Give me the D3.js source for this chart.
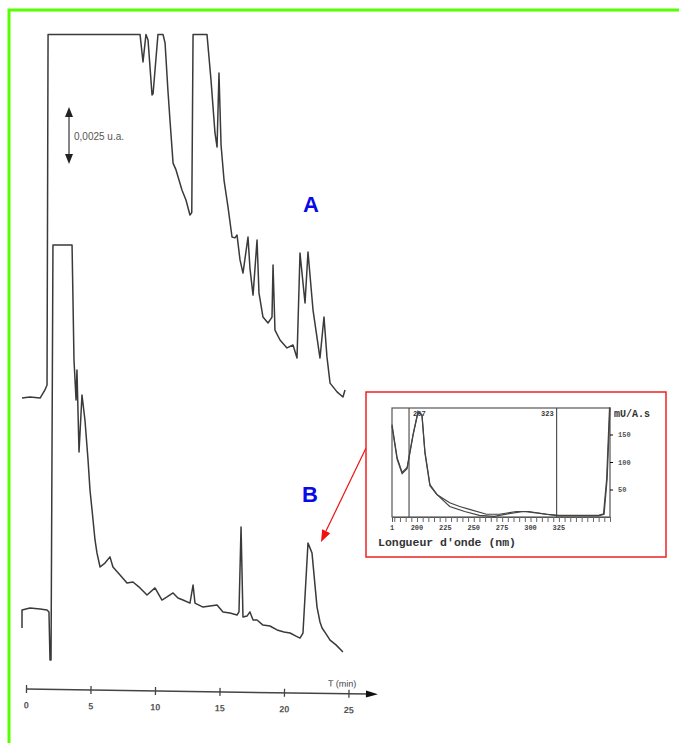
<!DOCTYPE html>
<style>
  body {
  margin: 0;
  background: #fff;
  font-family: 'Liberation Sans', sans-serif;
  }
</style>
<svg width="679" height="743"></svg>
<script src="https://d3js.org/d3.v7.min.js"></script>
<script>
  // chromatogram A : [time (min), signal (mAU, stacked position)]
  var traceA = [[-0.31,13.27],[0.31,13.32],[1.09,13.27],[1.47,13.64],[1.63,13.86],[1.71,29.8],
    [8.84,29.8],[9.07,28.55],[9.3,29.8],[9.46,29.55],[9.77,27.05],[9.85,27.1],[10.23,29.8],[10.62,29.8],
    [10.78,29.41],[11.0,27.27],[11.16,25.91],[11.4,23.95],[11.63,23.64],[11.86,23.18],[12.09,22.73],
    [12.4,22.27],[12.71,21.59],[12.85,21.7],[12.95,29.8],[14.03,29.8],[14.34,27.73],[14.65,25.32],
    [14.81,24.68],[14.96,28.05],[15.12,24.77],[15.35,23.18],[15.66,21.95],[15.97,20.59],[16.2,20.55],
    [16.36,20.68],[16.59,19.55],[16.82,18.95],[17.21,20.59],[17.36,19.18],[17.6,17.95],[17.91,20.45],
    [18.06,18.05],[18.37,16.95],[18.76,16.68],[19.07,16.95],[19.15,19.32],[19.3,16.36],[19.69,15.91],
    [20.23,15.55],[20.7,15.68],[21.01,15.09],[21.24,19.86],[21.63,17.59],[21.86,19.91],[22.25,17.27],
    [22.79,15.09],[23.1,16.95],[23.33,15.14],[23.57,13.95],[24.11,13.55],[24.57,13.32],[24.73,13.64]];

  // chromatogram B
  var traceB = [[-0.31,2.82],[-0.31,3.64],[0.31,3.73],[1.09,3.68],[1.63,3.64],[1.78,3.55],[1.86,1.36],
    [1.94,1.36],[2.09,20.23],[3.57,20.23],[3.72,15.0],[3.88,13.18],[3.95,14.55],[4.11,10.82],[4.34,13.41],
    [4.57,12.27],[4.81,10.45],[4.96,9.09],[5.12,8.18],[5.35,6.82],[5.5,6.23],[5.74,5.59],[6.12,5.77],
    [6.51,6.05],[6.74,5.59],[7.29,5.23],[7.83,4.86],[8.29,4.91],[8.84,4.64],[9.38,4.32],[10.0,4.64],
    [10.54,4.09],[10.93,4.23],[11.4,4.41],[11.78,4.18],[12.17,4.09],[12.71,3.95],[12.95,4.77],[13.1,3.95],
    [13.72,3.77],[14.26,3.82],[14.81,3.86],[15.27,3.55],[15.81,3.5],[16.36,3.41],[16.51,3.55],[16.67,7.41],
    [16.82,3.32],[17.13,3.36],[17.36,3.55],[17.6,3.18],[17.91,3.18],[18.37,2.95],[18.91,2.91],[19.46,2.73],
    [20.0,2.64],[20.47,2.59],[20.93,2.45],[21.24,2.36],[21.47,2.59],[21.86,6.68],[22.02,6.45],[22.17,6.23],
    [22.56,3.77],[22.79,3.09],[22.95,2.82],[23.26,2.55],[23.57,2.27],[24.03,2.05],[24.57,1.73]];

  var timeTicks = [0, 5, 10, 15, 20, 25];

  // UV spectrum of peak B : [wavelength (nm), mUA.s]
  var spec1 = [[178,168],[182.5,108],[186.9,81],[191.3,90],[196.5,150],[200.9,190],[204.4,186],[207,119],
    [211.4,59],[217.5,41],[228.8,26],[237.6,19],[246.3,14],[261.2,5],[272.6,5],[287.4,10],[298.8,10],
    [313.6,5],[325,3],[342.5,3],[360,3],[364.3,6],[367,68],[369.6,199]];
  var spec2 = [[178,165],[182.5,105],[186.9,79],[191.3,88],[196.5,148],[200.9,192],[204.4,184],[207,116],
    [211.4,57],[217.5,41],[228.8,19],[242,10],[255,3],[268,1],[281,6],[294,10],[310,6],[325,2],
    [342.5,2],[360,2],[364.8,5],[367.5,70],[370,199]];
  var wlTicks = [178, 200, 225, 250, 275, 300, 325];
  var wlLabels = ["1", "200", "225", "250", "275", "300", "325"];
  var absTicks = [50, 100, 150];
  var markerWl = [193, 323];
  var markerLabels = ["207", "323"];

  var svg = d3.select("svg");

  // green frame of the page
  svg.append("rect").attr("x", 9).attr("y", 10).attr("width", 680).attr("height", 750)
    .attr("fill", "none").attr("stroke", "#55ff00").attr("stroke-width", 3);

  // chromatogram scales
  var x = d3.scaleLinear().domain([0, 25]).range([26, 348.5]);
  var y = d3.scaleLinear().domain([0, 30]).range([690, 30]);

  var line = d3.line()
    .x(function(d) { return x(d[0]); })
    .y(function(d) { return y(d[1]); });

  svg.append("path").datum(traceA).attr("d", line)
    .attr("fill", "none").attr("stroke", "#3a3a3a").attr("stroke-width", 1.5)
    .attr("stroke-linejoin", "round");
  svg.append("path").datum(traceB).attr("d", line)
    .attr("fill", "none").attr("stroke", "#3a3a3a").attr("stroke-width", 1.5)
    .attr("stroke-linejoin", "round");

  // time axis (scan is slightly tilted)
  var ax = svg.append("g").attr("transform", "translate(0,689) rotate(0.85,26,0)");
  ax.call(d3.axisBottom(x).tickValues(timeTicks).tickSize(4).tickPadding(9))
    .call(function(g) { g.select(".domain").remove(); });
  ax.selectAll(".tick line").attr("y1", -4).attr("stroke", "#444").attr("stroke-width", 1.3);
  ax.selectAll(".tick text").attr("font-size", 9).attr("font-weight", "bold").attr("fill", "#555");
  ax.append("line").attr("x1", 26).attr("x2", 368).attr("y1", 0).attr("y2", 0)
    .attr("stroke", "#444").attr("stroke-width", 1.5);
  ax.append("path").attr("d", "M366,-3.5L378,0L366,3.5Z").attr("fill", "#111");
  ax.append("text").attr("x", 342).attr("y", -7).attr("text-anchor", "middle")
    .attr("font-size", 9).attr("fill", "#444").text("T (min)");

  // scale bar
  svg.append("line").attr("x1", 69).attr("x2", 69).attr("y1", 114).attr("y2", 157)
    .attr("stroke", "#444").attr("stroke-width", 1.3);
  svg.append("path").attr("d", "M65,117L69,107L73,117Z M65,154L69,164L73,154Z").attr("fill", "#222");
  svg.append("text").attr("x", 74).attr("y", 140).attr("font-size", 10).attr("fill", "#555")
    .text("0,0025 u.a.");

  // labels A / B
  svg.append("text").attr("x", 311).attr("y", 212).attr("text-anchor", "middle")
    .attr("font-size", 22).attr("font-weight", "bold").attr("fill", "#0a0ae6").text("A");
  svg.append("text").attr("x", 310).attr("y", 502).attr("text-anchor", "middle")
    .attr("font-size", 22).attr("font-weight", "bold").attr("fill", "#0a0ae6").text("B");

  // red pointer to peak B
  svg.append("line").attr("x1", 366).attr("y1", 448).attr("x2", 326).attr("y2", 531)
    .attr("stroke", "#ee1111").attr("stroke-width", 1.2);
  var ang = Math.atan2(531 - 448, 326 - 366);
  var tip = [321, 542];
  var hw = 4.5, hl = 12;
  var bx = tip[0] - hl * Math.cos(ang), by = tip[1] - hl * Math.sin(ang);
  svg.append("path")
    .attr("d", "M" + tip + "L" + [bx - hw * Math.sin(ang), by + hw * Math.cos(ang)] +
      "L" + [bx + hw * Math.sin(ang), by - hw * Math.cos(ang)] + "Z")
    .attr("fill", "#ee1111");

  // inset : spectrum
  svg.append("rect").attr("x", 366).attr("y", 392).attr("width", 300).attr("height", 165)
    .attr("fill", "#fff").attr("stroke", "#ee2222").attr("stroke-width", 1.5);

  var sx = d3.scaleLinear().domain([178, 370]).range([392, 610]);
  var sy = d3.scaleLinear().domain([0, 200]).range([517, 407]);

  svg.append("rect").attr("x", 392).attr("y", 408).attr("width", 218).attr("height", 109)
    .attr("fill", "none").attr("stroke", "#555").attr("stroke-width", 1.2);

  svg.selectAll(".marker").data(markerWl).enter().append("line")
    .attr("class", "marker")
    .attr("x1", sx).attr("x2", sx).attr("y1", 408).attr("y2", 517)
    .attr("stroke", "#444").attr("stroke-width", 1.1);
  svg.selectAll(".mlabel").data(markerWl).enter().append("text")
    .attr("class", "mlabel")
    .attr("x", function(d, i) { return i == 0 ? sx(d) + 4 : sx(d) - 3; })
    .attr("y", 416)
    .attr("text-anchor", function(d, i) { return i == 0 ? "start" : "end"; })
    .attr("font-family", "Liberation Mono, monospace").attr("font-size", 7)
    .attr("font-weight", "bold").attr("fill", "#333")
    .text(function(d, i) { return markerLabels[i]; });

  var sline = d3.line()
    .x(function(d) { return sx(d[0]); })
    .y(function(d) { return sy(d[1]); });
  [spec1, spec2].forEach(function(s) {
    svg.append("path").datum(s).attr("d", sline)
      .attr("fill", "none").attr("stroke", "#444").attr("stroke-width", 1.2);
  });

  // wavelength axis: dense minor ticks + labels
  var minor = d3.range(180, 371, 5);
  var sax = svg.append("g").attr("transform", "translate(0,517)");
  sax.call(d3.axisBottom(sx).tickValues(minor).tickSize(5).tickFormat(""))
    .call(function(g) { g.select(".domain").attr("stroke", "#555"); });
  sax.selectAll(".tick line").attr("stroke", "#666");
  svg.selectAll(".wl").data(wlTicks).enter().append("text")
    .attr("class", "wl")
    .attr("x", sx).attr("y", 530).attr("text-anchor", "middle")
    .attr("font-family", "Liberation Mono, monospace").attr("font-size", 7)
    .attr("font-weight", "bold").attr("fill", "#444")
    .text(function(d, i) { return wlLabels[i]; });
  svg.append("text").attr("x", 378).attr("y", 546)
    .attr("font-family", "Liberation Mono, monospace").attr("font-size", 11.5)
    .attr("font-weight", "bold").attr("fill", "#333")
    .text("Longueur d'onde (nm)");

  // right absorbance axis
  var ray = svg.append("g").attr("transform", "translate(610,0)");
  ray.call(d3.axisRight(sy).tickValues(absTicks).tickSize(3).tickPadding(5))
    .call(function(g) { g.select(".domain").remove(); });
  ray.selectAll(".tick text").attr("font-family", "Liberation Mono, monospace")
    .attr("font-size", 7).attr("font-weight", "bold").attr("fill", "#555");
  svg.append("text").attr("x", 614).attr("y", 417)
    .attr("font-family", "Liberation Mono, monospace").attr("font-size", 10)
    .attr("font-weight", "bold").attr("fill", "#333").text("mU/A.s");
</script>
